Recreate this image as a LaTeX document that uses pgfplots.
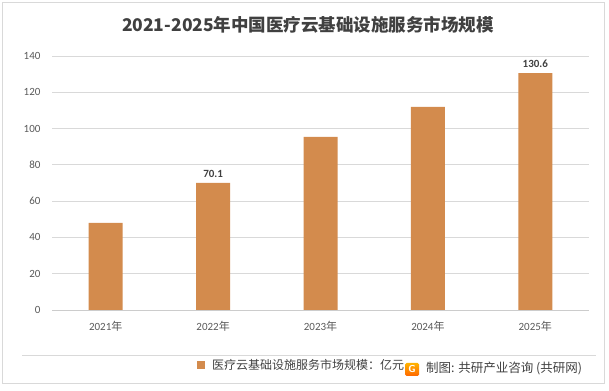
\documentclass[border=0pt]{standalone}
\usepackage{pgfplots}
\pgfplotsset{compat=1.18}
\usepackage{fontspec}
\setmainfont{Carlito}
\newfontfamily\cjk{Noto Sans CJK SC}
\definecolor{barc}{HTML}{D38B4D}
\definecolor{txt}{HTML}{595959}
\definecolor{ttl}{HTML}{404040}
\definecolor{grid}{HTML}{D9D9D9}
\begin{document}
\begin{tikzpicture}[x=1pt,y=1pt]
\path (0,0) rectangle (609,390);
\draw[draw=grid,line width=1pt] (2.5,6.5) rectangle (604.5,387.5);
\node[font=\cjk\bfseries\fontsize{17.5}{17.5}\selectfont,text=ttl] at (308,365) {2021-2025年中国医疗云基础设施服务市场规模};
\begin{axis}[
  at={(52pt,80pt)}, anchor=south west,
  scale only axis, width=537pt, height=254pt,
  xmin=-0.5, xmax=4.5, ymin=0, ymax=140,
  ytick={0,20,...,140},
  xtick={0,1,2,3,4},
  xticklabels={2021{\cjk 年},2022{\cjk 年},2023{\cjk 年},2024{\cjk 年},2025{\cjk 年}},
  axis x line*=bottom, axis y line*=left,
  x axis line style={draw=grid!85!gray, line width=0.8pt, -},
  y axis line style={draw=none, -},
  ymajorgrids, grid style={draw=grid, line width=0.8pt},
  major tick length=0pt,
  tick label style={font=\fontsize{11}{11}\selectfont, text=txt},
  xticklabel style={yshift=-8pt},
  yticklabel style={xshift=-8pt, /pgf/number format/assume math mode=true},
  clip=false,
]
\addplot[ybar, bar width=34pt, fill=barc, draw=none,
  point meta=explicit symbolic,
  nodes near coords={\pgfplotspointmeta},
  every node near coord/.style={font=\bfseries\fontsize{11}{11}\selectfont, text=ttl, yshift=2pt}]
 coordinates {(0,48) [] (1,70.1) [70.1] (2,95.4) [] (3,111.9) [] (4,130.6) [130.6]};
\end{axis}
\draw[draw=grid, line width=0.8pt] (22,35) -- (596,35);
\fill[barc] (197,21) rectangle (205,29);
\node[anchor=west, font=\cjk\fontsize{12}{12}\selectfont, text=ttl, inner sep=0pt] at (212,25) {医疗云基础设施服务市场规模：亿元};
\shade[top color=orange!60!yellow, bottom color=orange!80!red, rounded corners=1.5pt] (405,14) rectangle (419,27);
\node[font=\sffamily\bfseries\fontsize{10}{10}\selectfont, text=white] at (412,20.5) {G};
\node[anchor=west, font=\cjk\fontsize{12.5}{12.5}\selectfont, text=ttl, inner sep=0pt] at (426,22) {制图: 共研产业咨询 (共研网)};
\end{tikzpicture}
\end{document}
